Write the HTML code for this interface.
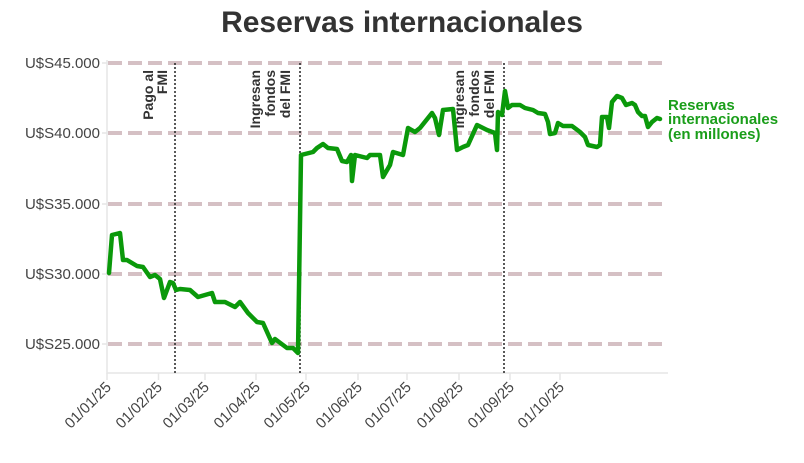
<!DOCTYPE html>
<html><head><meta charset="utf-8"><style>
body{margin:0;background:#fff;}
svg text{font-family:"Liberation Sans",sans-serif;}
</style></head><body>
<svg width="804" height="458" viewBox="0 0 804 458" xmlns="http://www.w3.org/2000/svg">
<text x="402" y="32" text-anchor="middle" font-size="30" font-weight="bold" fill="#333">Reservas internacionales</text>
<g stroke="#d5c0c4" stroke-width="4" stroke-dasharray="14,6">
<line x1="108" y1="63" x2="668" y2="63"/>
<line x1="108" y1="133" x2="668" y2="133"/>
<line x1="108" y1="204" x2="668" y2="204"/>
<line x1="108" y1="274" x2="668" y2="274"/>
<line x1="108" y1="344" x2="668" y2="344"/>
</g>
<g stroke="#e6e6e6" stroke-width="1.5">
<line x1="107" y1="60" x2="107" y2="374"/>
<line x1="107" y1="373" x2="668" y2="373"/>
<line x1="102" y1="63" x2="107" y2="63"/><line x1="102" y1="133" x2="107" y2="133"/><line x1="102" y1="204" x2="107" y2="204"/><line x1="102" y1="274" x2="107" y2="274"/><line x1="102" y1="344" x2="107" y2="344"/>
<line x1="107" y1="373" x2="107" y2="380"/><line x1="158.5" y1="373" x2="158.5" y2="380"/><line x1="205" y1="373" x2="205" y2="380"/><line x1="256" y1="373" x2="256" y2="380"/><line x1="306" y1="373" x2="306" y2="380"/><line x1="358" y1="373" x2="358" y2="380"/><line x1="407" y1="373" x2="407" y2="380"/><line x1="459" y1="373" x2="459" y2="380"/><line x1="510" y1="373" x2="510" y2="380"/><line x1="560" y1="373" x2="560" y2="380"/>
</g>
<g font-size="15" fill="#444" text-anchor="end">
<text x="100" y="68">U$S45.000</text>
<text x="100" y="138">U$S40.000</text>
<text x="100" y="209">U$S35.000</text>
<text x="100" y="279">U$S30.000</text>
<text x="100" y="349">U$S25.000</text>
</g>
<g font-size="15" fill="#444" text-anchor="end">
<text transform="translate(112,388) rotate(-45)">01/01/25</text>
<text transform="translate(163,388) rotate(-45)">01/02/25</text>
<text transform="translate(210,388) rotate(-45)">01/03/25</text>
<text transform="translate(261,388) rotate(-45)">01/04/25</text>
<text transform="translate(311,388) rotate(-45)">01/05/25</text>
<text transform="translate(363,388) rotate(-45)">01/06/25</text>
<text transform="translate(412,388) rotate(-45)">01/07/25</text>
<text transform="translate(464,388) rotate(-45)">01/08/25</text>
<text transform="translate(515,388) rotate(-45)">01/09/25</text>
<text transform="translate(565,388) rotate(-45)">01/10/25</text>
</g>
<g stroke="#222" stroke-width="1.5" stroke-dasharray="2,2">
<line x1="175" y1="63" x2="175" y2="373"/>
<line x1="300" y1="63" x2="300" y2="373"/>
<line x1="504" y1="63" x2="504" y2="373"/>
</g>
<g font-size="14" font-weight="bold" fill="#333" text-anchor="end">
<text transform="translate(153,70) rotate(-90)">Pago al</text>
<text transform="translate(167,70) rotate(-90)">FMI</text>
<text transform="translate(260,70) rotate(-90)">Ingresan</text>
<text transform="translate(275,70) rotate(-90)">fondos</text>
<text transform="translate(290,70) rotate(-90)">del FMI</text>
<text transform="translate(464,70) rotate(-90)">Ingresan</text>
<text transform="translate(479,70) rotate(-90)">fondos</text>
<text transform="translate(494,70) rotate(-90)">del FMI</text>
</g>
<polyline fill="none" stroke="#0a990a" stroke-width="4.5" stroke-linejoin="round" stroke-linecap="round" points="109,273 112,235 120,233 123,260 127,260 137,266 143,267 150,277 155,275 160,279 164,298 170,282 173,283 176,290 180,289 190,290 198,297 212,293 215,302 225,302 235,307 240,302 248,313 257,322 263,323 272,343 275,339 287,348 293,348 298,353 301,155 313,152 317,148 323,144 328,148 337,149 342,161 347,162 351,155 352,181 355,155 367,158 370,155 380,155 383,177 390,165 393,152 403,155 408,128 415,132 420,128 432,113 435,118 439,135 443,110 453,109 457,150 463,147 468,145 477,125 487,130 495,133 497,150 498,112 502,115 505,91 508,108 512,105 520,105 525,108 533,110 538,113 545,114 548,122 550,134 555,133 558,123 563,126 572,126 580,132 585,137 588,145 597,147 600,145 602,117 607,117 609,128 612,102 617,96 622,98 626,105 632,103 635,105 638,112 642,116 645,116 648,127 652,122 657,118 660,119"/>
<g font-size="15" font-weight="bold" fill="#1a9e1a">
<text x="668" y="110">Reservas</text>
<text x="668" y="124">internacionales</text>
<text x="668" y="139">(en millones)</text>
</g>
</svg>
</body></html>
